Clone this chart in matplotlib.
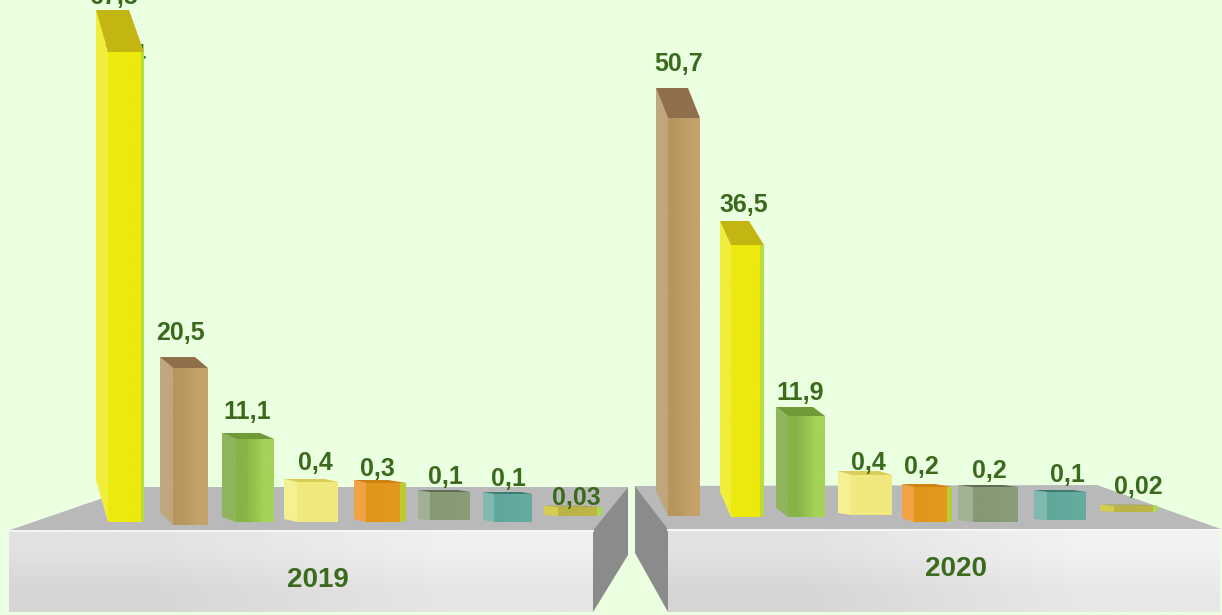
#
# Pseudo-3D bars, 2019 and 2020
#

import matplotlib
matplotlib.use("Agg")
import matplotlib.pyplot as plt
import numpy as np
from matplotlib.colors import to_rgb
from matplotlib.patches import Polygon

### data

years = ["2019", "2020"]
values_2019 = [67.5, 20.5, 11.1, 0.4, 0.3, 0.1, 0.1, 0.03]
values_2020 = [50.7, 36.5, 11.9, 0.4, 0.2, 0.2, 0.1, 0.02]
labels_2019 = ["67,5", "20,5", "11,1", "0,4", "0,3", "0,1", "0,1", "0,03"]
labels_2020 = ["50,7", "36,5", "11,9", "0,4", "0,2", "0,2", "0,1", "0,02"]
series_2019 = ["yellow", "brown", "green", "pale", "orange", "grey", "teal", "olive"]
series_2020 = ["brown", "yellow", "green", "pale", "orange", "grey", "teal", "olive"]

### layout (pixels of the original picture)

BG = "#ebffe1"
TXT = "#3b6a1d"

# value -> front face height, the chart's axis is not linear
scale_v = [0, 0.025, 0.1, 0.2, 0.3, 0.4, 11.1, 11.9, 20.5, 36.5, 50.7, 67.5]
scale_h = [0, 8, 28, 35, 39, 40, 83, 101, 157, 272, 398, 470]

# side left, front left, front right, strip right, base y, back base y, top depth
geom_2019 = [(96, 108, 141, 144, 522, 480, 42),
             (160, 173, 208, 208, 525, 512, 11),
             (222, 236, 274, 274, 522, 517, 6),
             (284, 297, 338, 338, 522, 519, 3),
             (354, 366, 400, 406, 522, 519, 3),
             (418, 430, 470, 470, 520, 519, 2),
             (483, 494, 532, 532, 522, 520, 2),
             (544, 558, 597, 602, 516, 515, 1)]
geom_2020 = [(656, 668, 700, 700, 516, 491, 30),
             (720, 731, 760, 764, 517, 492, 24),
             (776, 788, 825, 825, 517, 508, 9),
             (838, 851, 892, 892, 515, 513, 4),
             (902, 914, 947, 952, 522, 518, 3),
             (958, 973, 1018, 1018, 522, 520, 2),
             (1034, 1047, 1086, 1086, 520, 519, 2),
             (1100, 1114, 1153, 1158, 512, 511, 1)]

label_xy_2019 = [(113, -3), (180, 333), (247, 412), (315, 463),
                 (377, 469), (445, 477), (508, 479), (576, 498)]
label_xy_2020 = [(679, 64), (744, 205), (800, 393), (868, 463),
                 (921, 467), (989, 471), (1067, 475), (1138, 487)]

# side, front dark, front light, strip, top
colors = {
    "yellow": ("#f1ed3c", "#ecea0e", "#eee90c", "#b9dd3a", "#c4b612"),
    "brown": ("#bfa67c", "#b8955e", "#c4a269", "#c4a269", "#90704a"),
    "green": ("#90b45e", "#86b346", "#a5d358", "#a5d358", "#6f9a35"),
    "pale": ("#f5f092", "#f0e97e", "#f0e97e", "#f0e97e", "#d9ce58"),
    "orange": ("#f0a244", "#df961b", "#e19a1e", "#b9cc30", "#cf8212"),
    "grey": ("#a2b094", "#859a74", "#899c78", "#899c78", "#5e6b56"),
    "teal": ("#80baae", "#60a89b", "#65ab9f", "#65ab9f", "#3d7d74"),
    "olive": ("#d3ce52", "#bbb345", "#bdb546", "#a8dc50", "#a8a030"),
}


def gradient(ax, pts, c00, c10, c01, c11, z):
    """
    pre: pts polygon corners, cXY colors of the corners of its bounding box
         (X 0 left / 1 right, Y 0 top / 1 bottom)
    post: polygon filled with a bilinear gradient
    """
    pts = np.array(pts, dtype=float)
    x0, y0 = pts.min(axis=0)
    x1, y1 = pts.max(axis=0)
    img = np.array([[to_rgb(c00), to_rgb(c10)], [to_rgb(c01), to_rgb(c11)]])
    im = ax.imshow(img, extent=(x0, x1, y1, y0), origin="upper",
                   interpolation="bilinear", aspect="auto", zorder=z)
    im.set_clip_path(Polygon(pts, closed=True, transform=ax.transData))


def draw_bar(ax, value, geom, name, z):
    side_l, front_l, front_r, strip_r, base, back_base, depth = geom
    side, dark, light, strip, top = colors[name]
    h = np.interp(value, scale_v, scale_h)
    y = base - h
    dx = front_l - side_l
    # side face
    ax.fill([side_l, front_l, front_l, side_l],
            [y - depth, y, base, back_base], color=side, lw=0, zorder=z)
    # top face
    ax.fill([side_l, front_r - dx, strip_r, front_l],
            [y - depth, y - depth, y, y], color=top, lw=0, zorder=z)
    # right strip, then front face
    if strip_r > front_r:
        ax.fill([front_r, strip_r, strip_r, front_r],
                [y, y, base - 1, base], color=strip, lw=0, zorder=z)
    gradient(ax, [(front_l, y), (front_r, y), (front_r, base), (front_l, base)],
             dark, light, dark, light, z)


def draw_label(ax, text, x, y, size=18):
    ax.text(x, y, text, color=TXT, fontsize=size, fontweight="bold",
            ha="center", va="center", family="Liberation Sans", zorder=20)


fig = plt.figure(figsize=(12.22, 6.15), dpi=100, facecolor=BG)
ax = fig.add_axes([0, 0, 1, 1])
ax.set_facecolor(BG)

### platforms

TOP = "#b9b9b9"
SIDE = "#8b8b8b"

# 2019
ax.fill([10, 135, 628, 593], [530, 487, 487, 530], color=TOP, lw=0, zorder=1)
ax.fill([593, 628, 628, 593], [530, 487, 555, 612], color=SIDE, lw=0, zorder=1)
gradient(ax, [(9, 530), (593, 530), (593, 612), (9, 612)],
         "#e2e2e2", "#f0f0f0", "#d6d6d6", "#e6e6e6", 2)
ax.plot([9, 593], [531, 531], color="#f4f4f4", lw=1.5, zorder=3)

# 2020
ax.fill([635, 1097, 1221, 668], [486, 485, 529, 529], color=TOP, lw=0, zorder=1)
ax.fill([635, 668, 668, 635], [486, 529, 612, 553], color=SIDE, lw=0, zorder=1)
gradient(ax, [(668, 529), (1220, 529), (1220, 612), (668, 612)],
         "#e2e2e2", "#f2f2f2", "#d6d6d6", "#e8e8e8", 2)
ax.plot([668, 1220], [530, 530], color="#f6f6f6", lw=1.5, zorder=3)

### bars and labels

# the label hidden behind the first yellow bar
ax.text(122, 55, "67,4", color="#2c7a2c", fontsize=18, fontweight="bold",
        ha="center", va="center", family="Liberation Sans", zorder=4)

for values, labels, series, geoms, xys in [
        (values_2019, labels_2019, series_2019, geom_2019, label_xy_2019),
        (values_2020, labels_2020, series_2020, geom_2020, label_xy_2020)]:
    for i in range(len(values)):
        draw_bar(ax, values[i], geoms[i], series[i], 5 + i)
        draw_label(ax, labels[i], xys[i][0], xys[i][1])

draw_label(ax, years[0], 318, 580, 20)
draw_label(ax, years[1], 956, 569, 20)

ax.set_xlim(0, 1222)
ax.set_ylim(615, 0)
ax.axis("off")

fig.savefig("out.png", dpi=100, facecolor=BG)
